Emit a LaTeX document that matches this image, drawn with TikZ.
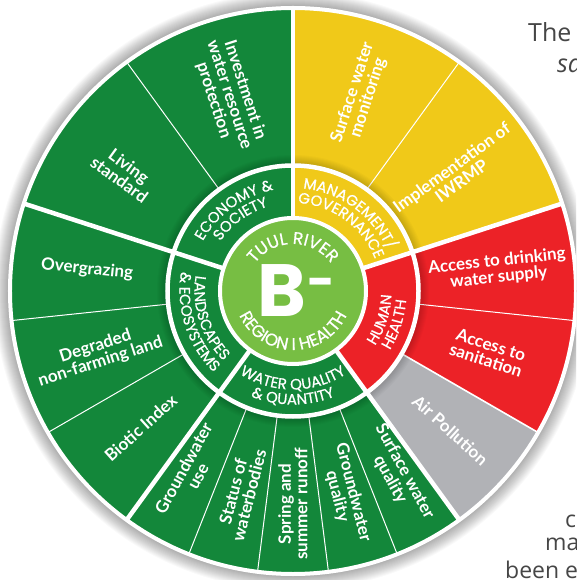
\documentclass[tikz,border=0pt]{standalone}
\usepackage{fontspec}
\usetikzlibrary{decorations.text}
\newfontfamily\wfont{Lato}
\newfontfamily\cfont{Poppins}
\newfontfamily\cfontm{Poppins}[FakeBold=0.7]
\newfontfamily\bodyfont{Open Sans}
\definecolor{wgreen}{RGB}{19,135,58}
\definecolor{wyellow}{RGB}{240,201,25}
\definecolor{wred}{RGB}{236,34,39}
\definecolor{wgray}{RGB}{177,178,182}
\definecolor{lgreen}{RGB}{119,190,67}
\definecolor{bodygray}{RGB}{70,70,70}
\newcommand\catf{\cfontm\fontsize{15}{15}\selectfont}
\newcommand\cenf{\cfontm\fontsize{17}{17}\selectfont}
\tikzset{
  lab/.style={text=white, font=\wfont\bfseries\fontsize{17}{16.5}\selectfont, align=center, inner sep=0pt},
  cat/.style={decorate, decoration={text along path, text align=center, text color=white}},
  body/.style={text=bodygray, font=\bodyfont\fontsize{25}{25}\selectfont, inner sep=0pt, anchor=base west},
  thinline/.style={white, line width=1pt},
  thickline/.style={white, line width=4.5pt}
}
\begin{document}
\begin{tikzpicture}[x=1pt,y=1pt]
\useasboundingbox (-293,-289) rectangle (283,291);
\clip (-293,-289) rectangle (283,291);
\fill[white] (-293,-289) rectangle (283,291);
% outer shadow
\foreach \i in {1,...,15} \fill[black,opacity=0.024] (0,0) circle[radius={(284+\i)*1pt}];
% outer ring wedges
\fill[wgreen] (0,0) -- (90:283pt) arc[start angle=90,end angle=306,radius=283pt] -- cycle;
\fill[wyellow] (0,0) -- (18:283pt) arc[start angle=18,end angle=90,radius=283pt] -- cycle;
\fill[wred] (0,0) -- (-30:283pt) arc[start angle=-30,end angle=18,radius=283pt] -- cycle;
\fill[wgray] (0,0) -- (-54:283pt) arc[start angle=-54,end angle=-30,radius=283pt] -- cycle;
\draw[white, line width=4pt] (0,0) circle[radius=283pt];
% thin separators
\foreach \a in {54,-6,-68.4,-82.8,-97.2,-111.6,-150,-174,126} \draw[thinline] (\a:120pt) -- (\a:283pt);
\draw[white, line width=1.6pt] (-30:120pt) -- (-30:283pt);
% shadow around middle ring
\foreach \i in {1,...,9} \fill[black,opacity=0.02] (0,0) circle[radius={(127+\i)*1pt}];
% middle ring
\fill[wgreen] (0,0) circle[radius=127pt];
\fill[wyellow] (0,0) -- (18:127pt) arc[start angle=18,end angle=90,radius=127pt] -- cycle;
\fill[wred] (0,0) -- (-54:127pt) arc[start angle=-54,end angle=18,radius=127pt] -- cycle;
\draw[white, line width=4.5pt] (0,0) circle[radius=125.5pt];
\foreach \a in {90,18,-54,-126,162} \draw[thickline] (\a:72pt) -- (\a:283pt);
% centre
\fill[lgreen] (0,0) circle[radius=73pt];
\draw[white, line width=4pt] (0,0) circle[radius=73pt];
% outer labels
\node[lab, rotate=-72] (inv) at (108:206pt) {Investment in\\water resource\\protection};
\node[lab, rotate=-36] (liv) at (145:206pt) {Living\\standard};
\node[lab, rotate=-6] (ovg) at (174:207pt) {Overgrazing};
\node[lab, rotate=18] (deg) at (198:205pt) {Degraded\\non-farming land};
\node[lab, rotate=42] (bio) at (222:205pt) {Biotic Index};
\node[lab, rotate=61.2] (gwu) at (240.5:208pt) {Groundwater\\use};
\node[lab, rotate=75.6] (sta) at (255.6:209pt) {Status of\\waterbodies};
\node[lab, rotate=90] (spr) at (270:213pt) {Spring and\\summer runoff};
\node[lab, rotate=-75.6] (gwq) at (284.4:210pt) {Groundwater\\quality};
\node[lab, rotate=-61.2] (swq) at (299.5:212pt) {Surface water\\quality};
\node[lab, rotate=-42] (air) at (-41.5:210pt) {Air Pollution};
\node[lab, rotate=-18] (san) at (-17.5:205pt) {Access to\\sanitation};
\node[lab, rotate=6] (drk) at (6:206pt) {Access to drinking\\water supply};
\node[lab, rotate=36] (imp) at (35.6:201pt) {Implementation of\\IWRMP};
\node[lab, rotate=72] (swm) at (71:207pt) {Surface water\\monitoring};
% category labels (curved)
\path[cat, decoration={text={|\catf|ECONOMY {\&}}}] (162:103pt) arc[start angle=162,end angle=90,radius=103pt];
\path[cat, decoration={text={|\catf|SOCIETY}}] (162:88pt) arc[start angle=162,end angle=90,radius=88pt];
\path[cat, decoration={text={|\catf|MANAGEMENT/}}] (90:103pt) arc[start angle=90,end angle=18,radius=103pt];
\path[cat, decoration={text={|\catf|GOVERNANCE}}] (90:88pt) arc[start angle=90,end angle=18,radius=88pt];
\path[cat, decoration={text={|\catf|HUMAN}}] (-54:98.5pt) arc[start angle=-54,end angle=18,radius=98.5pt];
\path[cat, decoration={text={|\catf|HEALTH}}] (-54:113.5pt) arc[start angle=-54,end angle=18,radius=113.5pt];
\path[cat, decoration={text={|\catf|WATER QUALITY}}] (234:98.5pt) arc[start angle=234,end angle=306,radius=98.5pt];
\path[cat, decoration={text={|\catf|{\&} QUANTITY}}] (234:113.5pt) arc[start angle=234,end angle=306,radius=113.5pt];
\path[cat, decoration={text={|\catf|LANDSCAPES}}] (162:98.5pt) arc[start angle=162,end angle=234,radius=98.5pt];
\path[cat, decoration={text={|\catf|{\&} ECOSYSTEMS}}] (162:113.5pt) arc[start angle=162,end angle=234,radius=113.5pt];
% centre texts
\path[cat, decoration={text={|\cenf|TUUL RIVER}}] (180:47pt) arc[start angle=180,end angle=0,radius=47pt];
\path[cat, decoration={text={|\cenf|REGION I HEALTH}}] (180:59pt) arc[start angle=180,end angle=360,radius=59pt];
\node[text=white, font=\cfont\bfseries\fontsize{74}{74}\selectfont, inner sep=0pt] (grade) at (-11pt,0pt) {B};
\node[text=white, font=\cfont\bfseries\fontsize{48}{48}\selectfont, inner sep=0pt] (minus) at (28.5pt,3pt) {-};
% surrounding page text (cut off)
\node[body] (t1) at (235,249) {The};
\node[body, font=\bodyfont\itshape\fontsize{25}{25}\selectfont] (t2) at (264,218) {sa};
\node[body, font=\bodyfont\fontsize{23}{23}\selectfont] (t3) at (272,-236) {c};
\node[body, font=\bodyfont\fontsize{23}{23}\selectfont] (t4) at (252,-259) {ma};
\node[body, font=\bodyfont\fontsize{23}{23}\selectfont] (t5) at (212,-287) {been e};
\end{tikzpicture}
\end{document}
